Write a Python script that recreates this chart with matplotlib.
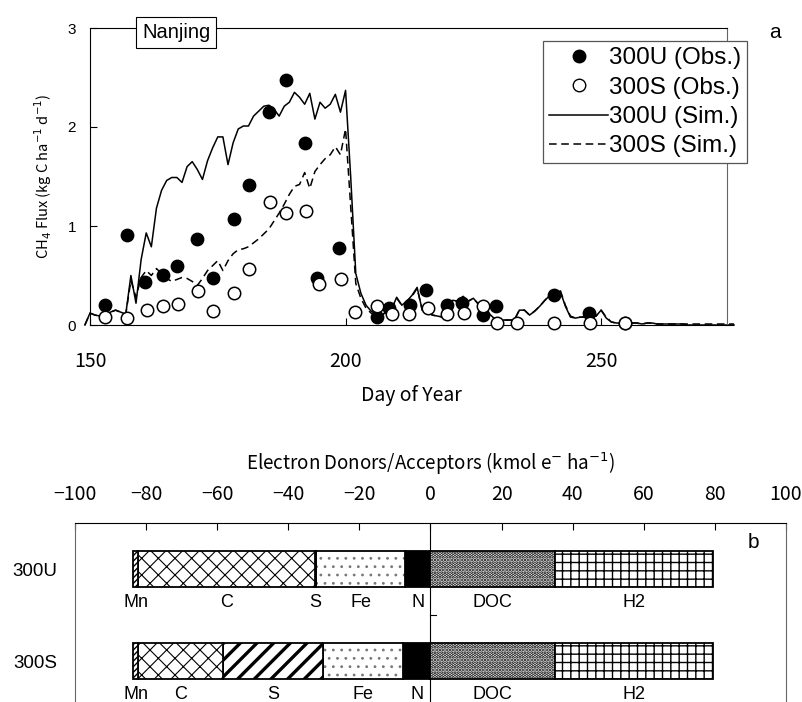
import matplotlib.pyplot as plt
import numpy as np

plt.rcParams['font.family'] = ['Liberation Sans', 'DejaVu Sans']
GOTHIC = ['Noto Sans CJK JP', 'DejaVu Sans']

# ---- panel a: CH4 flux ----
sim_days = list(range(149, 277))
sim_300u = [0.00, 0.12, 0.10, 0.09, 0.10, 0.13, 0.15, 0.13, 0.11, 0.50,
            0.22, 0.66, 0.93, 0.79, 1.18, 1.36, 1.46, 1.49, 1.49, 1.44,
            1.60, 1.65, 1.57, 1.47, 1.66, 1.79, 1.90, 1.90, 1.62, 1.84,
            1.98, 2.01, 2.01, 2.11, 2.16, 2.21, 2.22, 2.18, 2.11, 2.21,
            2.25, 2.35, 2.30, 2.23, 2.34, 2.08, 2.25, 2.19, 2.23, 2.33,
            2.15, 2.37, 1.50, 0.52, 0.32, 0.20, 0.14, 0.11, 0.10, 0.13,
            0.16, 0.28, 0.20, 0.24, 0.30, 0.38, 0.15, 0.13, 0.10, 0.09,
            0.08, 0.15, 0.25, 0.24, 0.29, 0.24, 0.27, 0.21, 0.17, 0.12,
            0.07, 0.05, 0.05, 0.05, 0.05, 0.15, 0.15, 0.10, 0.14, 0.19,
            0.25, 0.30, 0.33, 0.34, 0.19, 0.08, 0.07, 0.08, 0.08, 0.08,
            0.09, 0.15, 0.07, 0.03, 0.02, 0.02, 0.02, 0.02, 0.02, 0.01,
            0.02, 0.02, 0.01, 0.01, 0.01, 0.01, 0.01, 0.01, 0.00, 0.00,
            0.00, 0.00, 0.00, 0.00, 0.00, 0.00, 0.00, 0.00]
sim_300s = [0.00, 0.12, 0.10, 0.09, 0.10, 0.13, 0.15, 0.13, 0.11, 0.45,
            0.28, 0.48, 0.55, 0.50, 0.57, 0.52, 0.47, 0.44, 0.46, 0.48,
            0.47, 0.44, 0.40, 0.47, 0.55, 0.60, 0.65, 0.55, 0.65, 0.72,
            0.76, 0.77, 0.79, 0.83, 0.87, 0.92, 0.97, 1.05, 1.13, 1.22,
            1.32, 1.40, 1.42, 1.54, 1.38, 1.55, 1.62, 1.68, 1.72, 1.80,
            1.72, 1.98, 1.20, 0.42, 0.27, 0.17, 0.12, 0.10, 0.10, 0.13,
            0.16, 0.27, 0.20, 0.24, 0.29, 0.37, 0.15, 0.13, 0.10, 0.09,
            0.08, 0.15, 0.24, 0.24, 0.28, 0.24, 0.27, 0.21, 0.17, 0.12,
            0.07, 0.05, 0.05, 0.05, 0.05, 0.15, 0.15, 0.10, 0.14, 0.19,
            0.25, 0.30, 0.34, 0.35, 0.20, 0.09, 0.07, 0.08, 0.08, 0.08,
            0.09, 0.15, 0.08, 0.03, 0.02, 0.02, 0.02, 0.02, 0.02, 0.01,
            0.02, 0.02, 0.01, 0.01, 0.01, 0.01, 0.01, 0.01, 0.01, 0.01,
            0.01, 0.01, 0.01, 0.01, 0.01, 0.01, 0.01, 0.01]

obs_u_days = [152.9, 157.2, 160.7, 164.2, 167.1, 171.0, 174.0, 178.1, 181.1,
              185.0, 188.3, 192.0, 194.5, 198.8, 206.1, 208.5, 212.6, 215.7,
              219.8, 222.8, 226.8, 229.5, 240.7, 247.6, 254.7]
obs_u_flux = [0.20, 0.91, 0.43, 0.51, 0.60, 0.87, 0.47, 1.07, 1.41,
              2.15, 2.47, 1.84, 0.47, 0.78, 0.08, 0.17, 0.20, 0.35,
              0.20, 0.22, 0.10, 0.19, 0.30, 0.12, 0.02]
obs_s_days = [152.9, 157.2, 161.1, 164.2, 167.3, 171.2, 174.0, 178.1, 181.1,
              185.3, 188.3, 192.2, 194.9, 199.2, 201.9, 206.1, 209.0, 212.5,
              216.1, 219.8, 223.1, 226.8, 229.7, 233.5, 240.8, 247.8, 254.7]
obs_s_flux = [0.085, 0.07, 0.15, 0.19, 0.21, 0.34, 0.14, 0.32, 0.57,
              1.24, 1.13, 1.15, 0.41, 0.46, 0.13, 0.19, 0.11, 0.11,
              0.17, 0.11, 0.12, 0.19, 0.02, 0.02, 0.02, 0.02, 0.02]

# ---- panel b: electron donors / acceptors ----
treatments = ['300U', '300S']
acceptors = ['N', 'Fe', 'S', 'C', 'Mn']          # stacked from 0 to the left
acc_300u = [7.2, 24.9, 0.5, 49.6, 1.4]
acc_300s = [7.6, 22.6, 28.3, 23.8, 1.3]
donors = ['DOC', 'H2']                           # stacked from 0 to the right
don_300u = [34.9, 44.6]
don_300s = [34.9, 44.6]

styles = {
    'Mn':  dict(hatch='//////', hc='black', fc='white', hlw=1.0),
    'C':   dict(hatch='xx', hc='black', fc='white', hlw=0.8),
    'S':   dict(hatch='//', hc='black', fc='white', hlw=2.4),
    'Fe':  dict(hatch='..', hc='#777777', fc='white', hlw=0.8),
    'N':   dict(hatch=None, hc='black', fc='black', hlw=1.0),
    'DOC': dict(hatch='.....', hc='black', fc='white', hlw=1.8),
    'H2':  dict(hatch='++', hc='black', fc='white', hlw=1.0),
}

fig = plt.figure(figsize=(8.03, 7.02), dpi=100)

# ================= panel a =================
ax = fig.add_axes([90 / 803, 1 - 325 / 702, 643 / 803, 297 / 702])
ax.plot(sim_days, sim_300u, color='black', lw=1.1, clip_on=False)
ax.plot(sim_days, sim_300s, color='black', lw=1.1, ls=(0, (5, 3)), clip_on=False)
ax.scatter(obs_u_days, obs_u_flux, s=80, color='black', zorder=3, clip_on=False)
ax.scatter(obs_s_days, obs_s_flux, s=80, facecolor='white', edgecolor='black',
           lw=1.1, zorder=4, clip_on=False)

ax.set_xlim(150, 275.8)
ax.set_ylim(0, 3)
ax.set_xticks([150, 200, 250])
ax.set_yticks([0, 1, 2, 3])
ax.tick_params(axis='x', direction='in', length=5, pad=19, labelsize=14)
ax.tick_params(axis='y', direction='in', length=5, pad=10, labelsize=11)
for lab in ax.get_xticklabels():
    lab.set_family(GOTHIC)
ax.spines['right'].set_position(('data', 274.7))
ax.spines['right'].set_color('#666666')
ax.spines['top'].set_bounds(150, 274.7)
ax.set_xlabel('Day of Year', fontsize=14, family=GOTHIC, labelpad=9)
ax.set_ylabel('CH$_4$ Flux (kg C ha$^{-1}$ d$^{-1}$)', fontsize=10.5,
              family=GOTHIC, labelpad=10)

ax.text(0.134, 0.985, 'Nanjing', transform=ax.transAxes, ha='center', va='center',
        fontsize=14.5, bbox=dict(boxstyle='square,pad=0.3', fc='white',
                                 ec='black', lw=0.8))

h1 = plt.Line2D([], [], ls='none', marker='o', ms=9, color='black')
h2 = plt.Line2D([], [], ls='none', marker='o', ms=9, mfc='white', mec='black')
h3 = plt.Line2D([], [], color='black', lw=1.1)
h4 = plt.Line2D([], [], color='black', lw=1.1, ls=(0, (5, 3)))
leg = ax.legend([h1, h2, h3, h4],
                ['300U (Obs.)', '300S (Obs.)', '300U (Sim.)', '300S (Sim.)'],
                loc='upper right', bbox_to_anchor=(1.022, 0.955), fontsize=17.5,
                handlelength=2.4, handletextpad=0.05, labelspacing=0.3,
                borderpad=0.25, borderaxespad=0, fancybox=False, framealpha=1)
leg.get_frame().set_edgecolor('#555555')
leg.get_frame().set_linewidth(0.9)

fig.text(775 / 803, 1 - 32 / 702, 'a', fontsize=15, ha='center', va='center')

# ================= panel b =================
bx = fig.add_axes([75 / 803, 1 - 707 / 702, 711 / 803, 184 / 702])
bar_h = 0.4


def draw_segment(y, left, width, name):
    st = styles[name]
    if st['hatch']:
        p = bx.barh(y, width, left=left, height=bar_h, color=st['fc'],
                    edgecolor=st['hc'], hatch=st['hatch'], lw=0)[0]
        if hasattr(p, 'set_hatch_linewidth'):
            p.set_hatch_linewidth(st['hlw'])
    else:
        bx.barh(y, width, left=left, height=bar_h, color=st['fc'], lw=0)
    bx.barh(y, width, left=left, height=bar_h, fill=False,
            edgecolor='black', lw=1.3)


for i, (acc, don) in enumerate([(acc_300u, don_300u), (acc_300s, don_300s)]):
    edge = 0.0
    for name, w in zip(acceptors, acc):
        draw_segment(i, edge - w, w, name)
        bx.text(edge - w / 2, i + 0.36, name, ha='center', va='center', fontsize=13)
        edge -= w
    edge = 0.0
    for name, w in zip(donors, don):
        draw_segment(i, edge, w, name)
        bx.text(edge + w / 2, i + 0.36, name, ha='center', va='center', fontsize=13)
        edge += w

bx.axvline(0, color='black', lw=0.8, zorder=0)
bx.plot([0, 1.5], [0.5, 0.5], color='black', lw=0.8)

bx.set_xlim(-100, 100)
bx.set_ylim(1.5, -0.5)
bx.set_xticks(np.arange(-100, 101, 20))
bx.set_yticks([0, 1])
bx.set_yticklabels(treatments)
bx.xaxis.tick_top()
bx.xaxis.set_label_position('top')
bx.tick_params(axis='x', direction='in', length=5, pad=13, labelsize=14)
bx.tick_params(axis='y', length=0, pad=13, labelsize=13.5)
for lab in bx.get_xticklabels():
    lab.set_family(GOTHIC)
bx.spines['left'].set_color('#666666')
bx.spines['right'].set_color('#666666')
bx.set_xlabel('Electron Donors/Acceptors (kmol e$^{-}$ ha$^{-1}$)', fontsize=13.5,
              family=GOTHIC, labelpad=10)

fig.text(753 / 803, 1 - 543 / 702, 'b', fontsize=15, ha='center', va='center')

fig.savefig('out.png', dpi=100)
